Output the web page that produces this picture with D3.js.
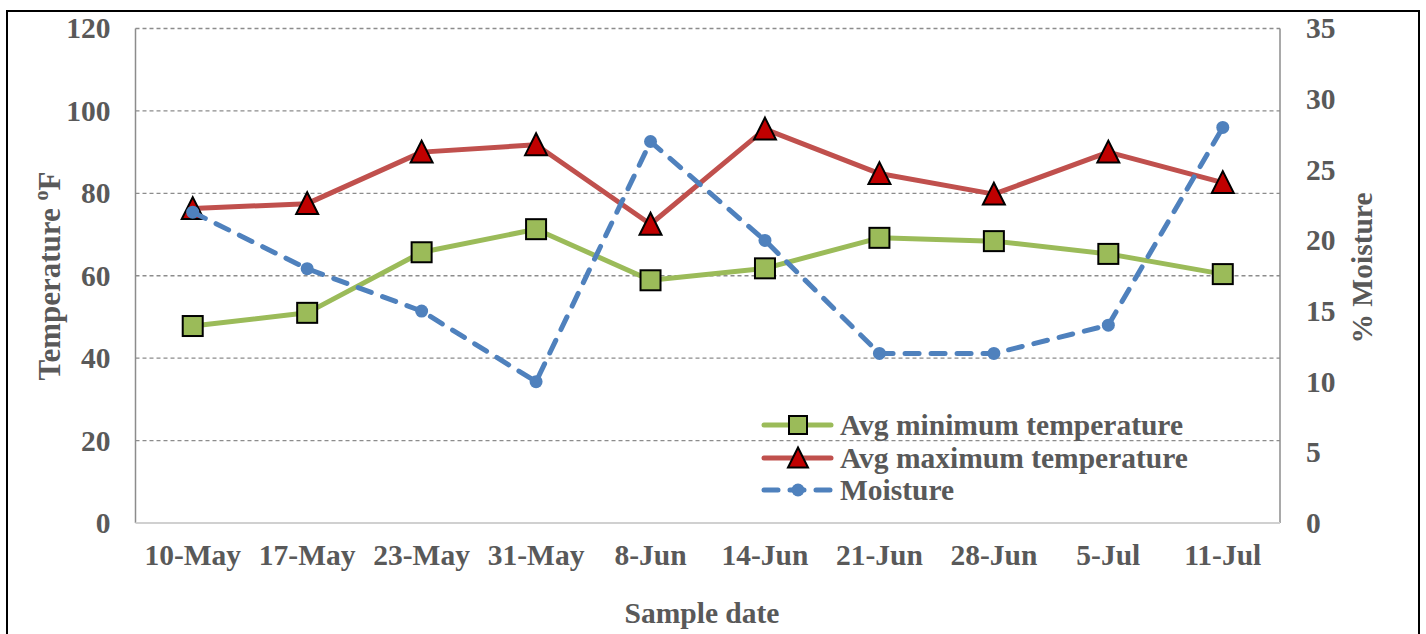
<!DOCTYPE html>
<html>
<head>
<meta charset="utf-8">
<script src="https://cdn.jsdelivr.net/npm/d3@7/dist/d3.min.js"></script>
<style>
  html, body { margin: 0; padding: 0; background: #fff; }
  svg { display: block; }
  text { font-family: "Liberation Serif", "Times New Roman", serif; font-weight: bold; fill: #595959; }
</style>
</head>
<body>
<svg id="chart" width="1426" height="634"></svg>
<script>
// Sampling dates and measured series
const dates = ["10-May", "17-May", "23-May", "31-May", "8-Jun", "14-Jun", "21-Jun", "28-Jun", "5-Jul", "11-Jul"];
const minTemp = [47.8, 51, 65.7, 71.3, 58.9, 61.8, 69.2, 68.4, 65.3, 60.4];
const maxTemp = [76.3, 77.5, 90, 91.8, 72.5, 95.6, 84.8, 79.8, 90, 82.6];
const moisture = [22, 18, 15, 10, 27, 20, 12, 12, 14, 28];
const tempTicks = [0, 20, 40, 60, 80, 100, 120];
const moistTicks = [0, 5, 10, 15, 20, 25, 30, 35];

const svg = d3.select("#chart");
const plot = { left: 135.5, right: 1280, top: 28.5, bottom: 523 };
const FONT = 29.5;

// Outer frame
svg.append("rect")
  .attr("x", 7).attr("y", 11)
  .attr("width", 1412).attr("height", 640)
  .attr("fill", "none").attr("stroke", "#000").attr("stroke-width", 2);

const x = d3.scaleBand().domain(dates).range([plot.left, plot.right]);
const cx = d => x(d) + x.bandwidth() / 2;
const yT = d3.scaleLinear().domain([0, 120]).range([plot.bottom, plot.top]);
const yM = d3.scaleLinear().domain([0, 35]).range([plot.bottom, plot.top]);

// Horizontal gridlines
svg.append("g").selectAll("line")
  .data(tempTicks.filter(t => t > 0))
  .join("line")
  .attr("x1", plot.left).attr("x2", plot.right)
  .attr("y1", d => yT(d)).attr("y2", d => yT(d))
  .attr("stroke", "#8c8c8c").attr("stroke-width", 1.3)
  .attr("stroke-dasharray", "4 3");

// Plot area edges
svg.append("line").attr("x1", plot.left).attr("x2", plot.left)
  .attr("y1", plot.top).attr("y2", plot.bottom)
  .attr("stroke", "#8c8c8c").attr("stroke-width", 1.5);
svg.append("line").attr("x1", plot.right).attr("x2", plot.right)
  .attr("y1", plot.top).attr("y2", plot.bottom)
  .attr("stroke", "#8c8c8c").attr("stroke-width", 1.5);
svg.append("line").attr("x1", plot.left).attr("x2", plot.right)
  .attr("y1", plot.bottom).attr("y2", plot.bottom)
  .attr("stroke", "#d0d0d0").attr("stroke-width", 2);

// Axes (labels only; lines drawn above)
const leftAxis = svg.append("g")
  .attr("transform", `translate(${plot.left},0)`)
  .call(d3.axisLeft(yT).tickValues(tempTicks).tickSize(0).tickPadding(25));
const rightAxis = svg.append("g")
  .attr("transform", `translate(${plot.right},0)`)
  .call(d3.axisRight(yM).tickValues(moistTicks).tickSize(0).tickPadding(26));
const bottomAxis = svg.append("g")
  .attr("transform", `translate(0,${plot.bottom})`)
  .call(d3.axisBottom(x).tickSize(0).tickPadding(21));
[leftAxis, rightAxis, bottomAxis].forEach(g => {
  g.select(".domain").remove();
  g.selectAll("text")
    .attr("font-family", "Liberation Serif, Times New Roman, serif")
    .attr("font-weight", "bold")
    .attr("font-size", FONT)
    .attr("fill", "#595959");
});

// Axis titles
svg.append("text")
  .attr("x", 702).attr("y", 623)
  .attr("text-anchor", "middle").attr("font-size", FONT)
  .text("Sample date");

const tTitle = svg.append("text")
  .attr("transform", "translate(60,276) rotate(-90)")
  .attr("text-anchor", "middle").attr("font-size", 31);
tTitle.append("tspan").text("Temperature ");
tTitle.append("tspan").attr("font-size", 20).attr("dy", -12).text("o");
tTitle.append("tspan").attr("dy", 12).text("F");

svg.append("text")
  .attr("transform", "translate(1372,268) rotate(-90)")
  .attr("text-anchor", "middle").attr("font-size", FONT)
  .text("% Moisture");

const colors = { min: "#9BBB59", max: "#C0504D", moist: "#4F81BD" };

// Series lines
const lineT = d3.line().x((d, i) => cx(dates[i])).y(d => yT(d));
const lineM = d3.line().x((d, i) => cx(dates[i])).y(d => yM(d));

function squareMarker(g, px, py, size) {
  g.append("rect")
    .attr("x", px - size / 2).attr("y", py - size / 2)
    .attr("width", size).attr("height", size)
    .attr("fill", colors.min).attr("stroke", "#000").attr("stroke-width", 2);
}
function triangleMarker(g, px, py, size) {
  const h = size * 0.95;
  g.append("path")
    .attr("d", `M${px},${py - h / 2 - 1}L${px + size / 2},${py + h / 2}L${px - size / 2},${py + h / 2}Z`)
    .attr("fill", "#C00000").attr("stroke", "#000").attr("stroke-width", 2)
    .attr("stroke-linejoin", "miter");
}
function circleMarker(g, px, py, r) {
  g.append("circle").attr("cx", px).attr("cy", py).attr("r", r).attr("fill", colors.moist);
}

// Min temperature
svg.append("path").datum(minTemp)
  .attr("d", lineT).attr("fill", "none")
  .attr("stroke", colors.min).attr("stroke-width", 5).attr("stroke-linejoin", "round");
const gMin = svg.append("g");
minTemp.forEach((v, i) => squareMarker(gMin, cx(dates[i]), yT(v), 20));

// Max temperature
svg.append("path").datum(maxTemp)
  .attr("d", lineT).attr("fill", "none")
  .attr("stroke", colors.max).attr("stroke-width", 5).attr("stroke-linejoin", "round");
const gMax = svg.append("g");
maxTemp.forEach((v, i) => triangleMarker(gMax, cx(dates[i]), yT(v), 22));

// Moisture (secondary axis)
svg.append("path").datum(moisture)
  .attr("d", lineM).attr("fill", "none")
  .attr("stroke", colors.moist).attr("stroke-width", 5)
  .attr("stroke-dasharray", "14 12").attr("stroke-linecap", "round")
  .attr("stroke-linejoin", "round");
const gMoist = svg.append("g");
moisture.forEach((v, i) => circleMarker(gMoist, cx(dates[i]), yM(v), 6.5));

// Legend
const legend = svg.append("g");
const legendRows = [
  { label: "Avg minimum temperature", y: 425, kind: "min" },
  { label: "Avg maximum temperature", y: 458, kind: "max" },
  { label: "Moisture", y: 490, kind: "moist" }
];
legendRows.forEach(r => {
  if (r.kind === "moist") {
    legend.append("line").attr("x1", 764).attr("x2", 832)
      .attr("y1", r.y).attr("y2", r.y)
      .attr("stroke", colors.moist).attr("stroke-width", 5)
      .attr("stroke-dasharray", "14 12").attr("stroke-linecap", "round");
    circleMarker(legend, 798, r.y, 6.5);
  } else {
    legend.append("line").attr("x1", 764).attr("x2", 831)
      .attr("y1", r.y).attr("y2", r.y)
      .attr("stroke", colors[r.kind]).attr("stroke-width", 5).attr("stroke-linecap", "round");
    if (r.kind === "min") squareMarker(legend, 798, r.y, 18);
    else triangleMarker(legend, 798, r.y, 20);
  }
  legend.append("text")
    .attr("x", 840).attr("y", r.y).attr("dy", "0.35em")
    .attr("font-size", FONT)
    .text(r.label);
});
</script>
</body>
</html>
